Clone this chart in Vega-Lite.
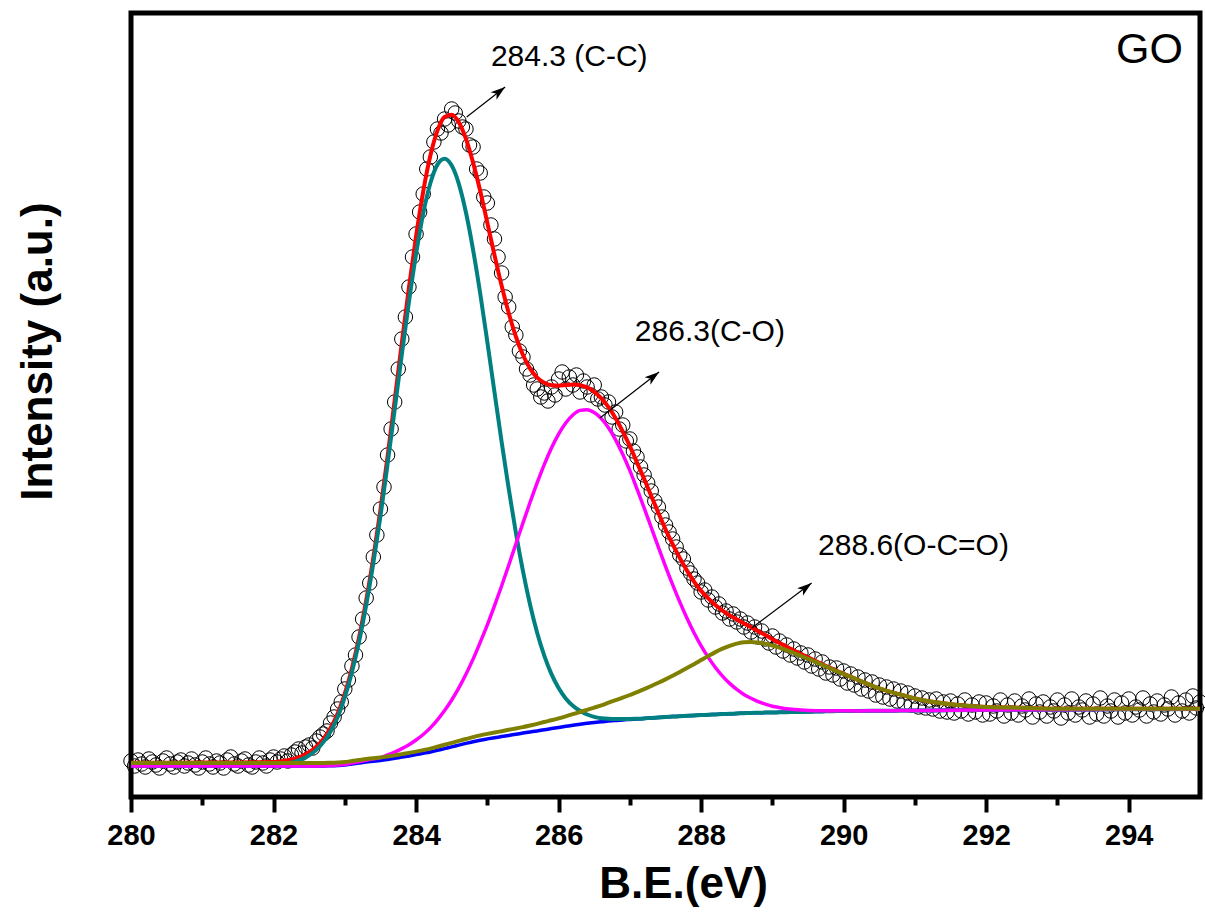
{
  "$schema": "https://vega.github.io/schema/vega-lite/v6.json",
  "width": 1069,
  "height": 784,
  "autosize": {"type": "none"},
  "padding": {"left": 131, "top": 13, "right": 5, "bottom": 125},
  "background": "white",
  "config": {
    "view": {"stroke": "black", "strokeWidth": 5},
    "font": "Liberation Sans",
    "axis": {"grid": false}
  },
  "datasets": {
    "fit": [
      {"x":280.0,"bg":31,"cc":31.2,"co":31,"occ":34,"fit":34.2},
      {"x":280.5,"bg":31,"cc":31.3,"co":31,"occ":34,"fit":34.3},
      {"x":281.0,"bg":31,"cc":31.4,"co":31,"occ":34,"fit":34.4},
      {"x":281.5,"bg":31,"cc":31.6,"co":31,"occ":34,"fit":34.6},
      {"x":282.0,"bg":31,"cc":31.9,"co":31,"occ":34,"fit":34.9},
      {"x":282.1,"bg":31,"cc":32.6,"co":31,"occ":34,"fit":35.6},
      {"x":282.2,"bg":31,"cc":33.7,"co":31,"occ":34,"fit":36.7},
      {"x":282.3,"bg":31,"cc":35.3,"co":31,"occ":34,"fit":38.3},
      {"x":282.4,"bg":31,"cc":37.9,"co":31,"occ":34,"fit":40.9},
      {"x":282.5,"bg":31,"cc":41.6,"co":31.1,"occ":34,"fit":44.7},
      {"x":282.6,"bg":31,"cc":47.1,"co":31.1,"occ":34,"fit":50.2},
      {"x":282.7,"bg":31,"cc":54.9,"co":31.2,"occ":34,"fit":58.1},
      {"x":282.8,"bg":31.2,"cc":65.6,"co":31.5,"occ":34.2,"fit":68.9},
      {"x":282.9,"bg":31.5,"cc":80,"co":31.9,"occ":34.5,"fit":83.4},
      {"x":283.0,"bg":32,"cc":99.8,"co":32.6,"occ":35,"fit":103.4},
      {"x":283.1,"bg":33,"cc":124.7,"co":33.9,"occ":36,"fit":128.6},
      {"x":283.2,"bg":34,"cc":155.3,"co":35.3,"occ":37,"fit":159.6},
      {"x":283.3,"bg":35,"cc":191.8,"co":36.8,"occ":38,"fit":196.6},
      {"x":283.4,"bg":35.7,"cc":233.8,"co":38.2,"occ":38.7,"fit":239.3},
      {"x":283.5,"bg":36.5,"cc":280.7,"co":39.4,"occ":39.5,"fit":287.1},
      {"x":283.6,"bg":37.4,"cc":332.9,"co":42,"occ":40.4,"fit":340.6},
      {"x":283.7,"bg":38.6,"cc":387.5,"co":44.9,"occ":41.6,"fit":396.8},
      {"x":283.8,"bg":39.9,"cc":442.6,"co":48.4,"occ":42.9,"fit":454.1},
      {"x":283.9,"bg":41.1,"cc":495.2,"co":52.3,"occ":44.1,"fit":509.4},
      {"x":284.0,"bg":42.4,"cc":543.1,"co":57,"occ":45.4,"fit":560.7},
      {"x":284.1,"bg":43.7,"cc":583.4,"co":62.5,"occ":46.9,"fit":605.4},
      {"x":284.2,"bg":45,"cc":613.7,"co":69.1,"occ":48.4,"fit":641.2},
      {"x":284.3,"bg":46.7,"cc":632.4,"co":77.1,"occ":50.3,"fit":666.4},
      {"x":284.4,"bg":48.4,"cc":638.2,"co":86.4,"occ":52.2,"fit":680},
      {"x":284.5,"bg":50.1,"cc":631.4,"co":97,"occ":54.1,"fit":682.3},
      {"x":284.6,"bg":51.9,"cc":613.2,"co":109.2,"occ":56.1,"fit":674.7},
      {"x":284.7,"bg":53.6,"cc":584.5,"co":122.8,"occ":58,"fit":658.1},
      {"x":284.8,"bg":55.3,"cc":547.2,"co":137.9,"occ":59.9,"fit":634.4},
      {"x":284.9,"bg":56.8,"cc":503.5,"co":154.7,"occ":61.6,"fit":606},
      {"x":285.0,"bg":58.1,"cc":455.1,"co":172.2,"occ":63.1,"fit":574.2},
      {"x":285.1,"bg":59.3,"cc":405,"co":191.1,"occ":64.5,"fit":542},
      {"x":285.2,"bg":60.4,"cc":355.4,"co":211,"occ":65.8,"fit":511.4},
      {"x":285.3,"bg":61.6,"cc":308.2,"co":231.8,"occ":67.2,"fit":484},
      {"x":285.4,"bg":62.7,"cc":264.5,"co":252.9,"occ":68.5,"fit":460.5},
      {"x":285.5,"bg":63.9,"cc":225.8,"co":274.1,"occ":69.9,"fit":442},
      {"x":285.6,"bg":65,"cc":192.2,"co":294.7,"occ":71.5,"fit":428.4},
      {"x":285.7,"bg":66.1,"cc":164,"co":314.4,"occ":73.1,"fit":419.3},
      {"x":285.8,"bg":67.3,"cc":141.1,"co":332.7,"occ":75,"fit":414.2},
      {"x":285.9,"bg":68.4,"cc":122.9,"co":349,"occ":76.7,"fit":411.8},
      {"x":286.0,"bg":69.6,"cc":109,"co":362.9,"occ":78.6,"fit":411.3},
      {"x":286.1,"bg":70.7,"cc":98.6,"co":374,"occ":80.7,"fit":411.9},
      {"x":286.2,"bg":71.8,"cc":91.3,"co":382,"occ":82.9,"fit":412.4},
      {"x":286.3,"bg":72.8,"cc":86.2,"co":386.6,"occ":85,"fit":411.8},
      {"x":286.4,"bg":73.7,"cc":82.5,"co":387.3,"occ":87.2,"fit":409.6},
      {"x":286.5,"bg":74.5,"cc":80.1,"co":384.5,"occ":89.4,"fit":405.2},
      {"x":286.6,"bg":75.2,"cc":78.8,"co":378.4,"occ":91.7,"fit":398.7},
      {"x":286.7,"bg":75.9,"cc":78.2,"co":369.2,"occ":94.3,"fit":389.9},
      {"x":286.8,"bg":76.5,"cc":78,"co":357.2,"occ":96.8,"fit":378.8},
      {"x":286.9,"bg":77.1,"cc":78.1,"co":342.7,"occ":99.3,"fit":365.5},
      {"x":287.0,"bg":77.6,"cc":78.1,"co":326.3,"occ":102,"fit":350.8},
      {"x":287.1,"bg":78.1,"cc":78.3,"co":308.1,"occ":104.8,"fit":334.5},
      {"x":287.2,"bg":78.6,"cc":78.6,"co":289.1,"occ":107.9,"fit":318.1},
      {"x":287.3,"bg":79.1,"cc":79.1,"co":269.5,"occ":111,"fit":301.1},
      {"x":287.4,"bg":79.5,"cc":79.5,"co":249.9,"occ":114.2,"fit":284.1},
      {"x":287.5,"bg":80,"cc":80,"co":230.7,"occ":117.6,"fit":267.7},
      {"x":287.6,"bg":80.4,"cc":80.4,"co":212.4,"occ":121.2,"fit":252.8},
      {"x":287.7,"bg":80.8,"cc":80.8,"co":195.1,"occ":125,"fit":239.1},
      {"x":287.8,"bg":81.2,"cc":81.2,"co":179,"occ":128.9,"fit":226.6},
      {"x":287.9,"bg":81.6,"cc":81.6,"co":164.2,"occ":132.8,"fit":215.4},
      {"x":288.0,"bg":81.9,"cc":81.9,"co":151.1,"occ":136.9,"fit":206.1},
      {"x":288.1,"bg":82.3,"cc":82.3,"co":139.6,"occ":141,"fit":198.6},
      {"x":288.2,"bg":82.6,"cc":82.6,"co":129.5,"occ":144.9,"fit":192},
      {"x":288.3,"bg":82.9,"cc":82.9,"co":120.9,"occ":148.3,"fit":186.4},
      {"x":288.4,"bg":83.2,"cc":83.2,"co":113.6,"occ":151.2,"fit":181.6},
      {"x":288.5,"bg":83.5,"cc":83.5,"co":107.6,"occ":153.4,"fit":177.6},
      {"x":288.6,"bg":83.8,"cc":83.8,"co":102.6,"occ":154.7,"fit":173.6},
      {"x":288.7,"bg":84.1,"cc":84.1,"co":98.7,"occ":155.1,"fit":169.7},
      {"x":288.8,"bg":84.2,"cc":84.2,"co":95.4,"occ":154.5,"fit":165.7},
      {"x":288.9,"bg":84.4,"cc":84.4,"co":92.9,"occ":153.4,"fit":161.9},
      {"x":289.0,"bg":84.5,"cc":84.5,"co":90.8,"occ":151.5,"fit":157.8},
      {"x":289.1,"bg":84.7,"cc":84.7,"co":89.4,"occ":149.4,"fit":154.1},
      {"x":289.2,"bg":84.8,"cc":84.8,"co":88.2,"occ":146.8,"fit":150.2},
      {"x":289.3,"bg":85,"cc":85,"co":87.5,"occ":144,"fit":146.5},
      {"x":289.4,"bg":85.1,"cc":85.1,"co":86.9,"occ":141.1,"fit":142.9},
      {"x":289.5,"bg":85.3,"cc":85.3,"co":86.6,"occ":138.3,"fit":139.6},
      {"x":289.6,"bg":85.4,"cc":85.4,"co":86.3,"occ":135.2,"fit":136.1},
      {"x":289.7,"bg":85.6,"cc":85.6,"co":86.2,"occ":132.1,"fit":132.7},
      {"x":289.8,"bg":85.7,"cc":85.7,"co":86.1,"occ":129,"fit":129.4},
      {"x":289.9,"bg":85.9,"cc":85.9,"co":86.2,"occ":125.9,"fit":126.2},
      {"x":290.0,"bg":86,"cc":86,"co":86.2,"occ":123,"fit":123.2},
      {"x":290.2,"bg":86.1,"cc":86.1,"co":86.1,"occ":117.1,"fit":117.1},
      {"x":290.4,"bg":86.2,"cc":86.2,"co":86.2,"occ":111.2,"fit":111.2},
      {"x":290.6,"bg":86.3,"cc":86.3,"co":86.3,"occ":106.3,"fit":106.3},
      {"x":290.8,"bg":86.4,"cc":86.4,"co":86.4,"occ":102.4,"fit":102.4},
      {"x":291.0,"bg":86.5,"cc":86.5,"co":86.5,"occ":98.5,"fit":98.5},
      {"x":291.5,"bg":86.7,"cc":86.7,"co":86.7,"occ":92.7,"fit":92.7},
      {"x":292.0,"bg":87,"cc":87,"co":87,"occ":90,"fit":90},
      {"x":292.5,"bg":87.2,"cc":87.2,"co":87.2,"occ":89.2,"fit":89.2},
      {"x":293.0,"bg":87.3,"cc":87.3,"co":87.3,"occ":88.3,"fit":88.3},
      {"x":294.0,"bg":87.7,"cc":87.7,"co":87.7,"occ":88.2,"fit":88.2},
      {"x":295.0,"bg":88,"cc":88,"co":88,"occ":88.3,"fit":88.3}
    ],
    "exp": [
      {"x":280.00,"y":36},{"x":280.05,"y":31},{"x":280.10,"y":37},{"x":280.15,"y":33},{"x":280.20,"y":30},
      {"x":280.25,"y":38},{"x":280.30,"y":35},{"x":280.35,"y":32},{"x":280.40,"y":29},{"x":280.45,"y":36},
      {"x":280.50,"y":39},{"x":280.55,"y":33},{"x":280.60,"y":30},{"x":280.65,"y":35},{"x":280.70,"y":37},
      {"x":280.75,"y":31},{"x":280.80,"y":34},{"x":280.85,"y":38},{"x":280.90,"y":32},{"x":280.95,"y":29},
      {"x":281.00,"y":35},{"x":281.05,"y":39},{"x":281.10,"y":33},{"x":281.15,"y":30},{"x":281.20,"y":36},
      {"x":281.25,"y":34},{"x":281.30,"y":29},{"x":281.35,"y":37},{"x":281.40,"y":40},{"x":281.45,"y":33},
      {"x":281.50,"y":31},{"x":281.55,"y":36},{"x":281.60,"y":38},{"x":281.65,"y":32},{"x":281.70,"y":30},
      {"x":281.75,"y":35},{"x":281.80,"y":39},{"x":281.85,"y":34},{"x":281.90,"y":31},{"x":281.95,"y":37},
      {"x":282.00,"y":40},{"x":282.05,"y":35},{"x":282.10,"y":38},{"x":282.15,"y":41},{"x":282.20,"y":36},
      {"x":282.25,"y":42},{"x":282.30,"y":45},{"x":282.35,"y":48},{"x":282.40,"y":44},{"x":282.45,"y":50},
      {"x":282.50,"y":52},{"x":282.55,"y":49},{"x":282.60,"y":56},{"x":282.65,"y":60},{"x":282.70,"y":63},
      {"x":282.75,"y":66},{"x":282.80,"y":74},{"x":282.85,"y":80},{"x":282.90,"y":88},{"x":282.95,"y":95},
      {"x":283.00,"y":108},{"x":283.05,"y":117},{"x":283.10,"y":131},{"x":283.15,"y":142},{"x":283.20,"y":160},
      {"x":283.25,"y":178},{"x":283.30,"y":199},{"x":283.35,"y":214},{"x":283.40,"y":240},{"x":283.45,"y":262},
      {"x":283.50,"y":288},{"x":283.55,"y":310},{"x":283.60,"y":342},{"x":283.65,"y":368},{"x":283.70,"y":395},
      {"x":283.75,"y":428},{"x":283.80,"y":458},{"x":283.85,"y":480},{"x":283.90,"y":510},{"x":283.95,"y":540},
      {"x":284.00,"y":563},{"x":284.05,"y":585},{"x":284.10,"y":603},{"x":284.15,"y":628},{"x":284.20,"y":640},
      {"x":284.25,"y":655},{"x":284.30,"y":668},{"x":284.35,"y":664},{"x":284.40,"y":678},{"x":284.45,"y":672},
      {"x":284.50,"y":688},{"x":284.55,"y":684},{"x":284.60,"y":676},{"x":284.65,"y":670},{"x":284.70,"y":668},
      {"x":284.75,"y":652},{"x":284.80,"y":650},{"x":284.85,"y":628},{"x":284.90,"y":624},{"x":284.95,"y":600},
      {"x":285.00,"y":594},{"x":285.05,"y":572},{"x":285.10,"y":558},{"x":285.15,"y":540},{"x":285.20,"y":524},
      {"x":285.25,"y":500},{"x":285.30,"y":490},{"x":285.35,"y":470},{"x":285.40,"y":462},{"x":285.45,"y":446},
      {"x":285.50,"y":440},{"x":285.55,"y":428},{"x":285.60,"y":422},{"x":285.65,"y":412},{"x":285.70,"y":408},
      {"x":285.75,"y":400},{"x":285.80,"y":404},{"x":285.85,"y":396},{"x":285.90,"y":410},{"x":285.95,"y":402},
      {"x":286.00,"y":418},{"x":286.05,"y":425},{"x":286.10,"y":408},{"x":286.15,"y":420},{"x":286.20,"y":412},
      {"x":286.25,"y":422},{"x":286.30,"y":405},{"x":286.35,"y":416},{"x":286.40,"y":410},{"x":286.45,"y":402},
      {"x":286.50,"y":412},{"x":286.55,"y":398},{"x":286.60,"y":400},{"x":286.65,"y":392},{"x":286.70,"y":395},
      {"x":286.75,"y":380},{"x":286.80,"y":385},{"x":286.85,"y":368},{"x":286.90,"y":372},{"x":286.95,"y":356},
      {"x":287.00,"y":358},{"x":287.05,"y":346},{"x":287.10,"y":340},{"x":287.15,"y":330},{"x":287.20,"y":322},
      {"x":287.25,"y":314},{"x":287.30,"y":306},{"x":287.35,"y":296},{"x":287.40,"y":290},{"x":287.45,"y":280},
      {"x":287.50,"y":272},{"x":287.55,"y":265},{"x":287.60,"y":258},{"x":287.65,"y":250},{"x":287.70,"y":242},
      {"x":287.75,"y":238},{"x":287.80,"y":229},{"x":287.85,"y":224},{"x":287.90,"y":218},{"x":287.95,"y":214},
      {"x":288.00,"y":205},{"x":288.05,"y":207},{"x":288.10,"y":197},{"x":288.15,"y":200},{"x":288.20,"y":190},
      {"x":288.25,"y":193},{"x":288.30,"y":184},{"x":288.35,"y":186},{"x":288.40,"y":178},{"x":288.45,"y":183},
      {"x":288.50,"y":175},{"x":288.55,"y":178},{"x":288.60,"y":170},{"x":288.65,"y":174},{"x":288.70,"y":165},
      {"x":288.75,"y":170},{"x":288.80,"y":160},{"x":288.85,"y":166},{"x":288.90,"y":158},{"x":288.95,"y":154},
      {"x":289.00,"y":161},{"x":289.05,"y":150},{"x":289.10,"y":156},{"x":289.15,"y":146},{"x":289.20,"y":152},
      {"x":289.25,"y":142},{"x":289.30,"y":148},{"x":289.35,"y":139},{"x":289.40,"y":144},{"x":289.45,"y":135},
      {"x":289.50,"y":142},{"x":289.55,"y":131},{"x":289.60,"y":138},{"x":289.65,"y":128},{"x":289.70,"y":135},
      {"x":289.75,"y":124},{"x":289.80,"y":130},{"x":289.85,"y":122},{"x":289.90,"y":129},{"x":289.95,"y":118},
      {"x":290.00,"y":126},{"x":290.05,"y":114},{"x":290.10,"y":123},{"x":290.15,"y":112},{"x":290.20,"y":120},
      {"x":290.25,"y":108},{"x":290.30,"y":117},{"x":290.35,"y":106},{"x":290.40,"y":115},{"x":290.45,"y":102},
      {"x":290.50,"y":112},{"x":290.55,"y":100},{"x":290.60,"y":110},{"x":290.65,"y":98},{"x":290.70,"y":108},
      {"x":290.75,"y":96},{"x":290.80,"y":106},{"x":290.85,"y":94},{"x":290.90,"y":104},{"x":290.95,"y":92},
      {"x":291.00,"y":101},{"x":291.05,"y":90},{"x":291.10,"y":99},{"x":291.15,"y":89},{"x":291.20,"y":97},
      {"x":291.25,"y":88},{"x":291.30,"y":98},{"x":291.35,"y":86},{"x":291.40,"y":95},{"x":291.45,"y":85},
      {"x":291.50,"y":96},{"x":291.55,"y":84},{"x":291.60,"y":93},{"x":291.65,"y":86},{"x":291.70,"y":97},
      {"x":291.75,"y":83},{"x":291.80,"y":92},{"x":291.85,"y":85},{"x":291.90,"y":95},{"x":291.95,"y":82},
      {"x":292.00,"y":94},{"x":292.05,"y":83},{"x":292.10,"y":91},{"x":292.15,"y":86},{"x":292.20,"y":97},
      {"x":292.25,"y":81},{"x":292.30,"y":92},{"x":292.35,"y":84},{"x":292.40,"y":96},{"x":292.45,"y":82},
      {"x":292.50,"y":91},{"x":292.55,"y":87},{"x":292.60,"y":98},{"x":292.65,"y":80},{"x":292.70,"y":93},
      {"x":292.75,"y":85},{"x":292.80,"y":95},{"x":292.85,"y":81},{"x":292.90,"y":90},{"x":292.95,"y":86},
      {"x":293.00,"y":97},{"x":293.05,"y":79},{"x":293.10,"y":92},{"x":293.15,"y":84},{"x":293.20,"y":98},
      {"x":293.25,"y":82},{"x":293.30,"y":90},{"x":293.35,"y":87},{"x":293.40,"y":96},{"x":293.45,"y":80},
      {"x":293.50,"y":93},{"x":293.55,"y":83},{"x":293.60,"y":99},{"x":293.65,"y":81},{"x":293.70,"y":91},
      {"x":293.75,"y":86},{"x":293.80,"y":97},{"x":293.85,"y":80},{"x":293.90,"y":94},{"x":293.95,"y":84},
      {"x":294.00,"y":98},{"x":294.05,"y":82},{"x":294.10,"y":90},{"x":294.15,"y":87},{"x":294.20,"y":99},
      {"x":294.25,"y":81},{"x":294.30,"y":93},{"x":294.35,"y":85},{"x":294.40,"y":96},{"x":294.45,"y":83},
      {"x":294.50,"y":92},{"x":294.55,"y":88},{"x":294.60,"y":100},{"x":294.65,"y":82},{"x":294.70,"y":94},
      {"x":294.75,"y":86},{"x":294.80,"y":97},{"x":294.85,"y":84},{"x":294.90,"y":101},{"x":294.95,"y":89},
      {"x":295.00,"y":95}
    ],
    "labels": [
      {"x":285.05,"y":731,"t":"284.3 (C-C)"},
      {"x":287.07,"y":456,"t":"286.3(C-O)"},
      {"x":289.64,"y":242,"t":"288.6(O-C=O)"}
    ],
    "tag": [{"x":294.76,"y":734,"t":"GO"}],
    "arrows": [
      {"x":284.71,"y":680,"x2":285.25,"y2":710},
      {"x":286.58,"y":379,"x2":287.41,"y2":425},
      {"x":288.71,"y":169,"x2":289.55,"y2":214}
    ]
  },
  "resolve": {"axis": {"x": "independent", "y": "independent"}},
  "layer": [
    {
      "data": {"name": "exp"},
      "mark": {"type": "point", "shape": "circle", "filled": false, "stroke": "black", "strokeWidth": 1, "size": 210, "opacity": 1},
      "encoding": {
        "x": {"field": "x", "type": "quantitative", "scale": {"domain": [280, 295], "nice": false, "zero": false},
          "axis": {"orient": "bottom", "values": [280,282,284,286,288,290,292,294], "format": "d", "domain": false,
            "tickSize": 15, "tickWidth": 4, "tickColor": "black", "labelFontSize": 29, "labelFontWeight": "bold",
            "labelColor": "black", "labelPadding": 9, "labelFont": "Liberation Sans", "labelFlush": false, "labelOverlap": false,
            "title": "B.E.(eV)", "titleFont": "Liberation Sans", "titleFontSize": 44, "titleFontWeight": "bold", "titleColor": "black",
            "titleX": 552, "titleY": 100, "titleBaseline": "alphabetic", "titleAlign": "center"}},
        "y": {"field": "y", "type": "quantitative", "scale": {"domain": [0, 784], "nice": false, "zero": false},
          "axis": {"orient": "left", "domain": false, "ticks": false, "labels": false,
            "title": "Intensity (a.u.)", "titleFont": "Liberation Sans", "titleFontSize": 44, "titleFontWeight": "bold", "titleColor": "black",
            "titleX": -80, "titleY": 338, "titleAngle": 270, "titleBaseline": "alphabetic", "titleAlign": "center"}}
      }
    },
    {
      "data": {"name": "fit"},
      "mark": {"type": "line", "color": "#FF0000", "strokeWidth": 4, "interpolate": "monotone"},
      "encoding": {
        "x": {"field": "x", "type": "quantitative", "scale": {"domain": [280, 295], "nice": false, "zero": false},
          "axis": {"orient": "bottom", "values": [281,283,285,287,289,291,293], "domain": false, "tickSize": 8, "tickWidth": 4,
            "tickColor": "black", "labels": false, "title": null}},
        "y": {"field": "fit", "type": "quantitative", "scale": {"domain": [0, 784], "nice": false, "zero": false}, "axis": null}
      }
    },
    {
      "data": {"name": "fit"},
      "mark": {"type": "line", "color": "#0000FF", "strokeWidth": 3.5, "interpolate": "monotone"},
      "encoding": {
        "x": {"field": "x", "type": "quantitative", "scale": {"domain": [280, 295], "nice": false, "zero": false}, "axis": null},
        "y": {"field": "bg", "type": "quantitative", "scale": {"domain": [0, 784], "nice": false, "zero": false}, "axis": null}
      }
    },
    {
      "data": {"name": "fit"},
      "mark": {"type": "line", "color": "#008080", "strokeWidth": 4, "interpolate": "monotone"},
      "encoding": {
        "x": {"field": "x", "type": "quantitative", "scale": {"domain": [280, 295], "nice": false, "zero": false}, "axis": null},
        "y": {"field": "cc", "type": "quantitative", "scale": {"domain": [0, 784], "nice": false, "zero": false}, "axis": null}
      }
    },
    {
      "data": {"name": "fit"},
      "mark": {"type": "line", "color": "#FF00FF", "strokeWidth": 3.5, "interpolate": "monotone"},
      "encoding": {
        "x": {"field": "x", "type": "quantitative", "scale": {"domain": [280, 295], "nice": false, "zero": false}, "axis": null},
        "y": {"field": "co", "type": "quantitative", "scale": {"domain": [0, 784], "nice": false, "zero": false}, "axis": null}
      }
    },
    {
      "data": {"name": "fit"},
      "mark": {"type": "line", "color": "#808000", "strokeWidth": 4, "interpolate": "monotone"},
      "encoding": {
        "x": {"field": "x", "type": "quantitative", "scale": {"domain": [280, 295], "nice": false, "zero": false}, "axis": null},
        "y": {"field": "occ", "type": "quantitative", "scale": {"domain": [0, 784], "nice": false, "zero": false}, "axis": null}
      }
    },
    {
      "data": {"name": "arrows"},
      "mark": {"type": "rule", "color": "black", "strokeWidth": 1.2},
      "encoding": {
        "x": {"field": "x", "type": "quantitative", "scale": {"domain": [280, 295], "nice": false, "zero": false}, "axis": null},
        "y": {"field": "y", "type": "quantitative", "scale": {"domain": [0, 784], "nice": false, "zero": false}, "axis": null},
        "x2": {"field": "x2"},
        "y2": {"field": "y2"}
      }
    },
    {
      "data": {"name": "arrows"},
      "mark": {"type": "point", "shape": "M0,0 L0.55,1.7 L0,1.25 L-0.55,1.7 Z", "filled": true, "color": "black", "opacity": 1, "size": 300, "angle": 52},
      "encoding": {
        "x": {"field": "x2", "type": "quantitative", "scale": {"domain": [280, 295], "nice": false, "zero": false}, "axis": null},
        "y": {"field": "y2", "type": "quantitative", "scale": {"domain": [0, 784], "nice": false, "zero": false}, "axis": null}
      }
    },
    {
      "data": {"name": "labels"},
      "mark": {"type": "text", "align": "left", "baseline": "alphabetic", "font": "Liberation Sans", "fontSize": 30, "color": "black"},
      "encoding": {
        "x": {"field": "x", "type": "quantitative", "scale": {"domain": [280, 295], "nice": false, "zero": false}, "axis": null},
        "y": {"field": "y", "type": "quantitative", "scale": {"domain": [0, 784], "nice": false, "zero": false}, "axis": null},
        "text": {"field": "t"}
      }
    },
    {
      "data": {"name": "tag"},
      "mark": {"type": "text", "align": "right", "baseline": "alphabetic", "font": "Liberation Sans", "fontSize": 43, "color": "black"},
      "encoding": {
        "x": {"field": "x", "type": "quantitative", "scale": {"domain": [280, 295], "nice": false, "zero": false}, "axis": null},
        "y": {"field": "y", "type": "quantitative", "scale": {"domain": [0, 784], "nice": false, "zero": false}, "axis": null},
        "text": {"field": "t"}
      }
    }
  ]
}
